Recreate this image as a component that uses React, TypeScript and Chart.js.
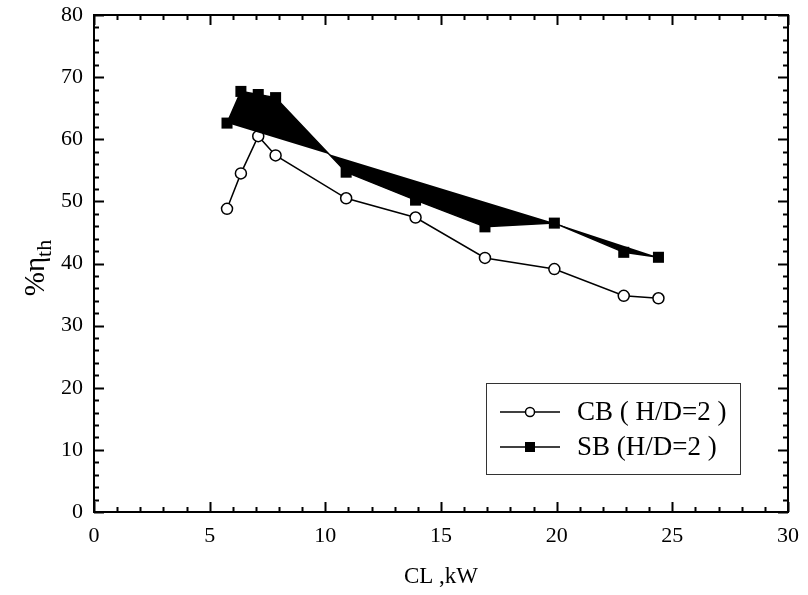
import React, { useEffect, useRef } from "react";
import { Chart, registerables } from "chart.js";

Chart.register(...registerables);

const xValues = [5.75, 6.35, 7.1, 7.85, 10.9, 13.9, 16.9, 19.9, 22.9, 24.4];
const cbValues = [48.8, 54.5, 60.5, 57.4, 50.5, 47.4, 40.9, 39.1, 34.8, 34.4];
const sbValues = [62.6, 67.7, 67.2, 66.7, 54.7, 50.2, 45.9, 46.5, 41.8, 41.0];
const xTicks = [0, 5, 10, 15, 20, 25, 30];
const yTicks = [0, 10, 20, 30, 40, 50, 60, 70, 80];
const cbLabel = "CB ( H/D=2 )";
const sbLabel = "SB (H/D=2 )";
const xTitle = "CL ,kW";

const FONT = "'Liberation Serif', 'Times New Roman', serif";

const pts = (xs: number[], ys: number[]) => xs.map((x, i) => ({ x, y: ys[i] }));

const framePlugin = {
  id: "frameAndDecor",
  afterDraw(chart: any) {
    const { ctx, chartArea: a, scales } = chart;
    const xs = scales.x;
    const ys = scales.y;
    ctx.save();
    ctx.strokeStyle = "#000";
    ctx.lineWidth = 2;
    ctx.strokeRect(a.left, a.top, a.right - a.left, a.bottom - a.top);
    for (let v = 0; v <= 30; v += 1) {
      const px = Math.round(xs.getPixelForValue(v)) + 0.5;
      const len = v % 5 === 0 ? 10 : 5;
      ctx.beginPath();
      ctx.moveTo(px, a.bottom);
      ctx.lineTo(px, a.bottom - len);
      ctx.moveTo(px, a.top);
      ctx.lineTo(px, a.top + len);
      ctx.stroke();
    }
    for (let v = 0; v <= 80; v += 2) {
      const py = Math.round(ys.getPixelForValue(v)) + 0.5;
      const len = v % 10 === 0 ? 10 : 5;
      ctx.beginPath();
      ctx.moveTo(a.left, py);
      ctx.lineTo(a.left + len, py);
      ctx.moveTo(a.right, py);
      ctx.lineTo(a.right - len, py);
      ctx.stroke();
    }
    ctx.fillStyle = "#000";
    ctx.font = `23px ${FONT}`;
    ctx.textAlign = "center";
    ctx.textBaseline = "middle";
    ctx.fillText(xTitle, (a.left + a.right) / 2, 577);
    ctx.save();
    ctx.translate(38, 268);
    ctx.rotate(-Math.PI / 2);
    ctx.textAlign = "left";
    ctx.textBaseline = "alphabetic";
    const main = "%\u03B7";
    ctx.font = `29px ${FONT}`;
    const wMain = ctx.measureText(main).width;
    ctx.font = `22px ${FONT}`;
    const wSub = ctx.measureText("th").width;
    const total = wMain + wSub;
    ctx.font = `29px ${FONT}`;
    ctx.fillText(main, -total / 2, 6);
    ctx.font = `22px ${FONT}`;
    ctx.fillText("th", -total / 2 + wMain, 13);
    ctx.restore();
    const bx = 486, by = 383, bw = 254, bh = 91;
    ctx.lineWidth = 1;
    ctx.strokeStyle = "#333";
    ctx.strokeRect(bx + 0.5, by + 0.5, bw, bh);
    const rows = [
      { label: cbLabel, y: 412, style: "circle" },
      { label: sbLabel, y: 447, style: "rect" },
    ];
    ctx.font = `27px ${FONT}`;
    ctx.textAlign = "left";
    ctx.textBaseline = "middle";
    for (const r of rows) {
      ctx.strokeStyle = "#000";
      ctx.lineWidth = 1.5;
      ctx.beginPath();
      ctx.moveTo(500, r.y);
      ctx.lineTo(560, r.y);
      ctx.stroke();
      if (r.style === "circle") {
        ctx.beginPath();
        ctx.arc(530, r.y, 4.5, 0, Math.PI * 2);
        ctx.fillStyle = "#fff";
        ctx.fill();
        ctx.stroke();
      } else {
        ctx.fillStyle = "#000";
        ctx.fillRect(525, r.y - 5, 10, 10);
      }
      ctx.fillStyle = "#000";
      ctx.fillText(r.label, 577, r.y + 1);
    }
    ctx.restore();
  },
};

export default function App() {
  const ref = useRef<HTMLCanvasElement | null>(null);
  useEffect(() => {
    document.body.style.margin = "0";
    const canvas = ref.current!;
    const sbPts = pts(xValues, sbValues);
    const chart = new Chart(canvas, {
      type: "line",
      data: {
        datasets: [
          {
            label: "sbFillA",
            data: sbPts.slice(0, 8),
            borderWidth: 0,
            borderColor: "rgba(0,0,0,0)",
            backgroundColor: "#000",
            pointRadius: 0,
            fill: "shape",
            tension: 0,
          },
          {
            label: "sbFillB",
            data: sbPts.slice(7),
            borderWidth: 0,
            borderColor: "rgba(0,0,0,0)",
            backgroundColor: "#000",
            pointRadius: 0,
            fill: "shape",
            tension: 0,
          },
          {
            label: cbLabel,
            data: pts(xValues, cbValues),
            borderColor: "#000",
            borderWidth: 1.5,
            pointStyle: "circle",
            pointRadius: 5.5,
            pointBorderWidth: 1.5,
            pointBackgroundColor: "#fff",
            pointBorderColor: "#000",
            fill: false,
            tension: 0,
          },
          {
            label: sbLabel,
            data: sbPts,
            borderColor: "#000",
            borderWidth: 1.5,
            pointStyle: "rect",
            pointRadius: 7.8,
            pointBorderWidth: 0,
            pointBackgroundColor: "#000",
            pointBorderColor: "#000",
            fill: false,
            tension: 0,
          },
        ],
      },
      options: {
        responsive: false,
        animation: false,
        devicePixelRatio: 1,
        layout: { padding: { left: 0, right: 20, top: 15, bottom: 0 } },
        plugins: { legend: { display: false }, tooltip: { enabled: false } },
        scales: {
          x: {
            type: "linear",
            min: 0,
            max: 30,
            afterFit: (s: any) => { s.height = 83; s.paddingLeft = 0; s.paddingRight = 0; },
            afterBuildTicks: (s: any) => { s.ticks = xTicks.map((v) => ({ value: v })); },
            grid: { display: false, drawTicks: false },
            border: { display: false },
            ticks: { color: "#000", font: { family: FONT, size: 22 }, padding: 11, maxRotation: 0, autoSkip: false },
          },
          y: {
            type: "linear",
            min: 0,
            max: 80,
            afterFit: (s: any) => { s.width = 94; s.paddingTop = 0; s.paddingBottom = 0; },
            afterBuildTicks: (s: any) => { s.ticks = yTicks.map((v) => ({ value: v })); },
            grid: { display: false, drawTicks: false },
            border: { display: false },
            ticks: { color: "#000", font: { family: FONT, size: 22 }, padding: 11, autoSkip: false },
          },
        },
      },
      plugins: [framePlugin],
    });
    return () => chart.destroy();
  }, []);
  return (
    <div style={{ width: 808, height: 595 }}>
      <canvas ref={ref} width={808} height={595} style={{ display: "block", width: 808, height: 595 }} />
    </div>
  );
}
